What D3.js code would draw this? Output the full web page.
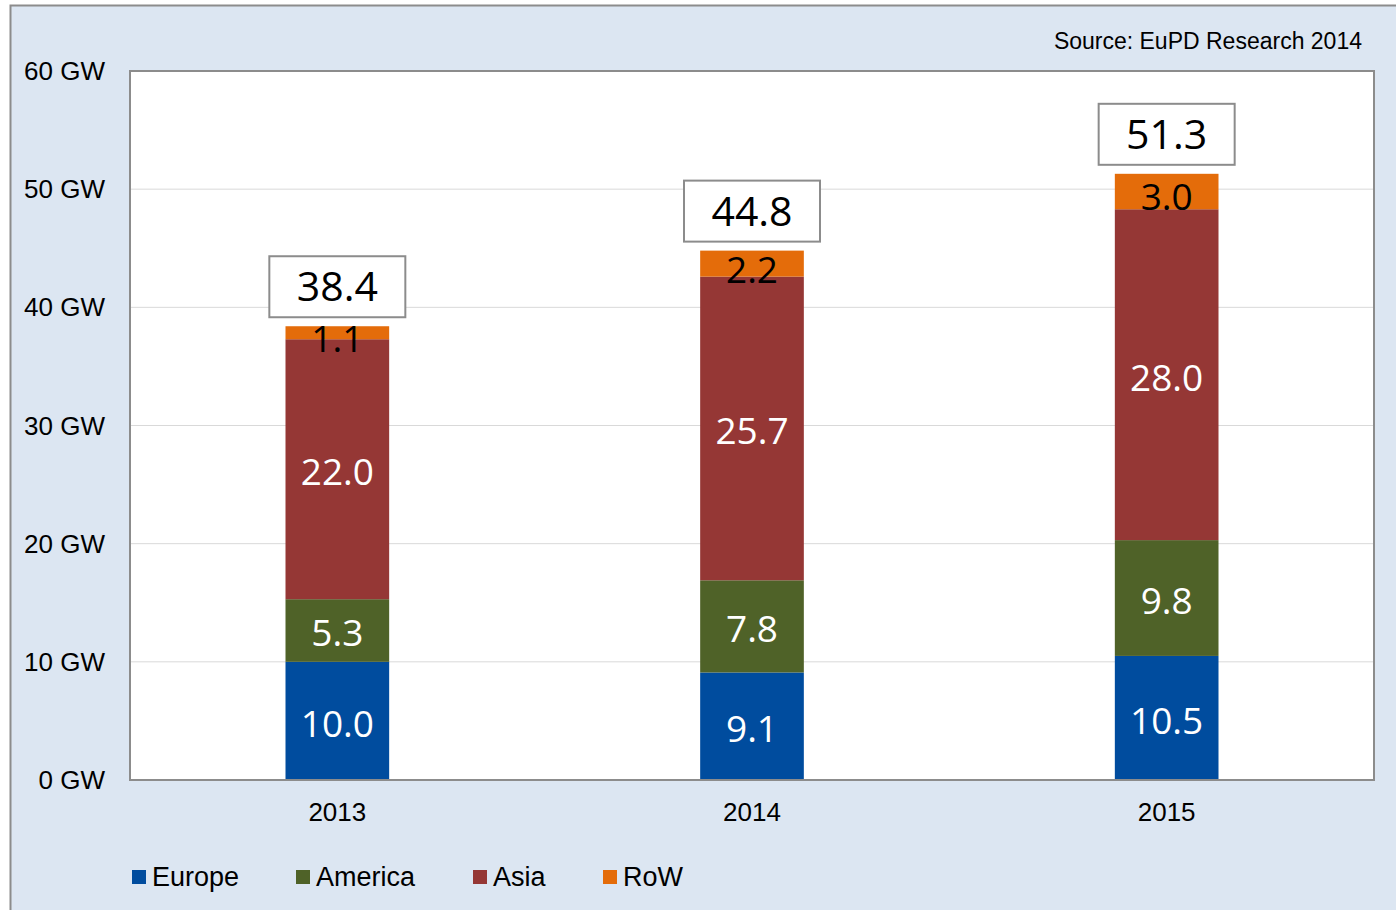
<!DOCTYPE html>
<html>
<head>
<meta charset="utf-8">
<script src="https://d3js.org/d3.v7.min.js"></script>
<style>
  body { margin: 0; background: #fff; overflow: hidden; }
  text { font-family: "Liberation Sans", Arial, sans-serif; }
  .num { font-family: "Open Sans", "Noto Sans", sans-serif; }
</style>
</head>
<body>
<div id="chart"></div>
<script>
// data
const years = ["2013", "2014", "2015"];
const regions = ["Europe", "America", "Asia", "RoW"];
const europe = [10.0, 9.1, 10.5];
const america = [5.3, 7.8, 9.8];
const asia = [22.0, 25.7, 28.0];
const row = [1.1, 2.2, 3.0];
const totals = [38.4, 44.8, 51.3];
const yTicks = [0, 10, 20, 30, 40, 50, 60];

const colors = ["#004c9e", "#4f6228", "#953735", "#e46c0a"];
const labelColors = ["#fff", "#fff", "#fff", "#000"];

const W = 1396, H = 910;
const plot = {left: 130, right: 1374, top: 71, bottom: 780};

const svg = d3.select("#chart").append("svg")
  .attr("width", W).attr("height", H);

// outer frame
svg.append("rect")
  .attr("x", 10.5).attr("y", 5.5)
  .attr("width", W + 20).attr("height", H + 20)
  .attr("fill", "#dce6f2")
  .attr("stroke", "#8c8c8c").attr("stroke-width", 2);

svg.append("rect")
  .attr("x", plot.left).attr("y", plot.top)
  .attr("width", plot.right - plot.left).attr("height", plot.bottom - plot.top)
  .attr("fill", "#fff");

const x = d3.scaleBand().domain(years).range([plot.left, plot.right]).paddingInner(0.75).paddingOuter(0.375);
const y = d3.scaleLinear().domain([0, 60]).range([plot.bottom, plot.top]);

// gridlines
svg.append("g").selectAll("line")
  .data(yTicks.filter(d => d > 0 && d < 60))
  .join("line")
    .attr("x1", plot.left).attr("x2", plot.right)
    .attr("y1", d => y(d)).attr("y2", d => y(d))
    .attr("stroke", "#d9d9d9").attr("stroke-width", 1);

// y labels
svg.append("g").selectAll("text")
  .data(yTicks)
  .join("text")
    .attr("x", 105).attr("y", d => y(d))
    .attr("dy", "0.35em")
    .attr("text-anchor", "end")
    .attr("font-size", 26)
    .attr("fill", "#000")
    .text(d => d + " GW");

// stacked bars
const table = years.map((yr, i) => ({year: yr, Europe: europe[i], America: america[i], Asia: asia[i], RoW: row[i]}));
const series = d3.stack().keys(regions)(table);

const groups = svg.append("g").selectAll("g")
  .data(series)
  .join("g")
    .attr("fill", (d, i) => colors[i]);

groups.selectAll("rect")
  .data(d => d)
  .join("rect")
    .attr("x", d => x(d.data.year))
    .attr("width", x.bandwidth())
    .attr("y", d => y(d[1]))
    .attr("height", d => y(d[0]) - y(d[1]));

// segment labels
series.forEach((s, si) => {
  svg.append("g").selectAll("text")
    .data(s)
    .join("text")
      .attr("class", "num")
      .attr("x", d => x(d.data.year) + x.bandwidth() / 2)
      .attr("y", d => (y(d[0]) + y(d[1])) / 2 + (si === 3 ? 6 : 3))
      .attr("dy", "0.35em")
      .attr("text-anchor", "middle")
      .attr("font-size", 37)
      .attr("fill", labelColors[si])
      .text(d => d.data[regions[si]].toFixed(1));
});

// total boxes
const boxW = 136, boxH = 61;
const tot = svg.append("g").selectAll("g")
  .data(years.map((yr, i) => ({year: yr, total: totals[i]})))
  .join("g")
    .attr("transform", d => `translate(${x(d.year) + x.bandwidth() / 2},${y(d.total) - 9 - boxH})`);
tot.append("rect")
  .attr("x", -boxW / 2).attr("y", 0)
  .attr("width", boxW).attr("height", boxH)
  .attr("fill", "#fff")
  .attr("stroke", "#8c8c8c").attr("stroke-width", 2);
tot.append("text")
  .attr("class", "num")
  .attr("x", 0).attr("y", boxH / 2)
  .attr("dy", "0.36em")
  .attr("text-anchor", "middle")
  .attr("font-size", 41)
  .attr("fill", "#000")
  .text(d => d.total.toFixed(1));

// plot border
svg.append("rect")
  .attr("x", plot.left).attr("y", plot.top)
  .attr("width", plot.right - plot.left).attr("height", plot.bottom - plot.top)
  .attr("fill", "none")
  .attr("stroke", "#8c8c8c").attr("stroke-width", 2);

// x labels
svg.append("g").selectAll("text")
  .data(years)
  .join("text")
    .attr("x", d => x(d) + x.bandwidth() / 2)
    .attr("y", 821)
    .attr("text-anchor", "middle")
    .attr("font-size", 26)
    .text(d => d);

// source
svg.append("text")
  .attr("x", 1362).attr("y", 49)
  .attr("text-anchor", "end")
  .attr("font-size", 23)
  .text("Source: EuPD Research 2014");

// legend
const legendX = [132, 296, 473, 603];
const leg = svg.append("g").selectAll("g")
  .data(regions)
  .join("g")
    .attr("transform", (d, i) => `translate(${legendX[i]},877)`);
leg.append("rect")
  .attr("x", 0).attr("y", -7)
  .attr("width", 14).attr("height", 14)
  .attr("fill", (d, i) => colors[i]);
leg.append("text")
  .attr("x", 20).attr("y", 0)
  .attr("dy", "0.35em")
  .attr("font-size", 27)
  .text(d => d);
</script>
</body>
</html>
